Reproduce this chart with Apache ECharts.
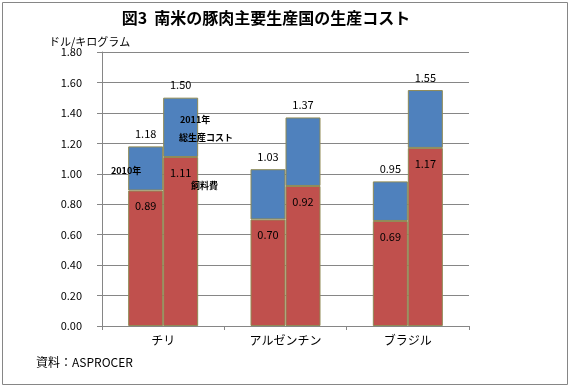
<!DOCTYPE html>
<html><head><meta charset="utf-8">
<script src="https://cdn.jsdelivr.net/npm/echarts@6/dist/echarts.min.js"></script>
<style>html,body{margin:0;padding:0;background:#fff}#c{width:573px;height:388px}</style>
</head><body><div id="c"></div>
<script>
const categories = ['チリ', 'アルゼンチン', 'ブラジル'];
const feed2010 = [0.89, 0.70, 0.69];
const total2010 = [1.18, 1.03, 0.95];
const feed2011 = [1.11, 0.92, 1.17];
const total2011 = [1.50, 1.37, 1.55];
const yTicks = [0, 0.2, 0.4, 0.6, 0.8, 1.0, 1.2, 1.4, 1.6, 1.8];

const FONT = '"Noto Sans CJK JP", "Noto Sans", sans-serif';
const RED = '#C0504D', BLUE = '#4F81BD', EDGE = '#8F8A55';
const rest = (t, f) => t.map((v, i) => +(v - f[i]).toFixed(2));

function feedSeries(data, stack) {
  return {
    type: 'bar', stack, data, barWidth: 35,
    itemStyle: { color: RED, borderColor: EDGE, borderWidth: 1 },
    label: { show: true, position: 'insideTop', distance: 10, color: '#000', fontSize: 11, fontFamily: FONT,
      formatter: p => p.value.toFixed(2) }
  };
}
function restSeries(data, totals, stack) {
  return {
    type: 'bar', stack, data, barWidth: 35,
    itemStyle: { color: BLUE, borderColor: EDGE, borderWidth: 1 },
    label: { show: true, position: 'top', distance: 7, color: '#000', fontSize: 11, fontFamily: FONT,
      formatter: p => totals[p.dataIndex].toFixed(2) }
  };
}

const chart = echarts.init(document.getElementById('c'), null, { renderer: 'canvas' });
chart.setOption({
  animation: false,
  backgroundColor: '#fff',
  grid: { left: 102, right: 104, top: 52, bottom: 62, containLabel: false },
  xAxis: {
    type: 'category', data: categories,
    axisLine: { show: true, lineStyle: { color: '#868686', width: 1 } },
    axisTick: { show: true, length: 4, alignWithLabel: false, lineStyle: { color: '#868686' } },
    axisLabel: { color: '#000', fontSize: 12, fontFamily: FONT, margin: 8 },
    splitLine: { show: false }
  },
  yAxis: {
    type: 'value', min: yTicks[0], max: yTicks[yTicks.length - 1], interval: 0.2,
    axisLine: { show: true, lineStyle: { color: '#868686', width: 1 } },
    axisTick: { show: true, length: 5, lineStyle: { color: '#868686' } },
    axisLabel: { color: '#000', fontSize: 11, fontFamily: FONT, margin: 20, formatter: v => v.toFixed(2) },
    splitLine: { show: true, lineStyle: { color: '#868686', width: 1 } }
  },
  series: [
    Object.assign(feedSeries(feed2010, 'a'), { barGap: '0%' }),
    restSeries(rest(total2010, feed2010), total2010, 'a'),
    feedSeries(feed2011, 'b'),
    restSeries(rest(total2011, feed2011), total2011, 'b')
  ],
  graphic: [
    { type: 'rect', shape: { x: 2.5, y: 2.5, width: 565, height: 382 }, style: { fill: 'none', stroke: '#868686', lineWidth: 1 }, silent: true },
    { type: 'text', x: 266, y: 18, style: { text: '図3  南米の豚肉主要生産国の生産コスト', font: 'bold 16px ' + FONT, fill: '#000', textAlign: 'center', textVerticalAlign: 'middle' } },
    { type: 'text', x: 49, y: 42, style: { text: 'ドル/キログラム', font: '11px ' + FONT, fill: '#000', textAlign: 'left', textVerticalAlign: 'middle' } },
    { type: 'text', x: 36, y: 362, style: { text: '資料：ASPROCER', font: '12px ' + FONT, fill: '#000', textAlign: 'left', textVerticalAlign: 'middle' } },
    { type: 'text', x: 111, y: 171, z: 100, style: { text: '2010年', font: 'bold 9px ' + FONT, fill: '#000', textAlign: 'left', textVerticalAlign: 'middle' } },
    { type: 'text', x: 180, y: 120, z: 100, style: { text: '2011年', font: 'bold 9px ' + FONT, fill: '#000', textAlign: 'left', textVerticalAlign: 'middle' } },
    { type: 'text', x: 179, y: 138, z: 100, style: { text: '総生産コスト', font: 'bold 9px ' + FONT, fill: '#000', textAlign: 'left', textVerticalAlign: 'middle' } },
    { type: 'text', x: 191, y: 186, z: 100, style: { text: '飼料費', font: 'bold 9px ' + FONT, fill: '#000', textAlign: 'left', textVerticalAlign: 'middle' } }
  ]
});
</script></body></html>
